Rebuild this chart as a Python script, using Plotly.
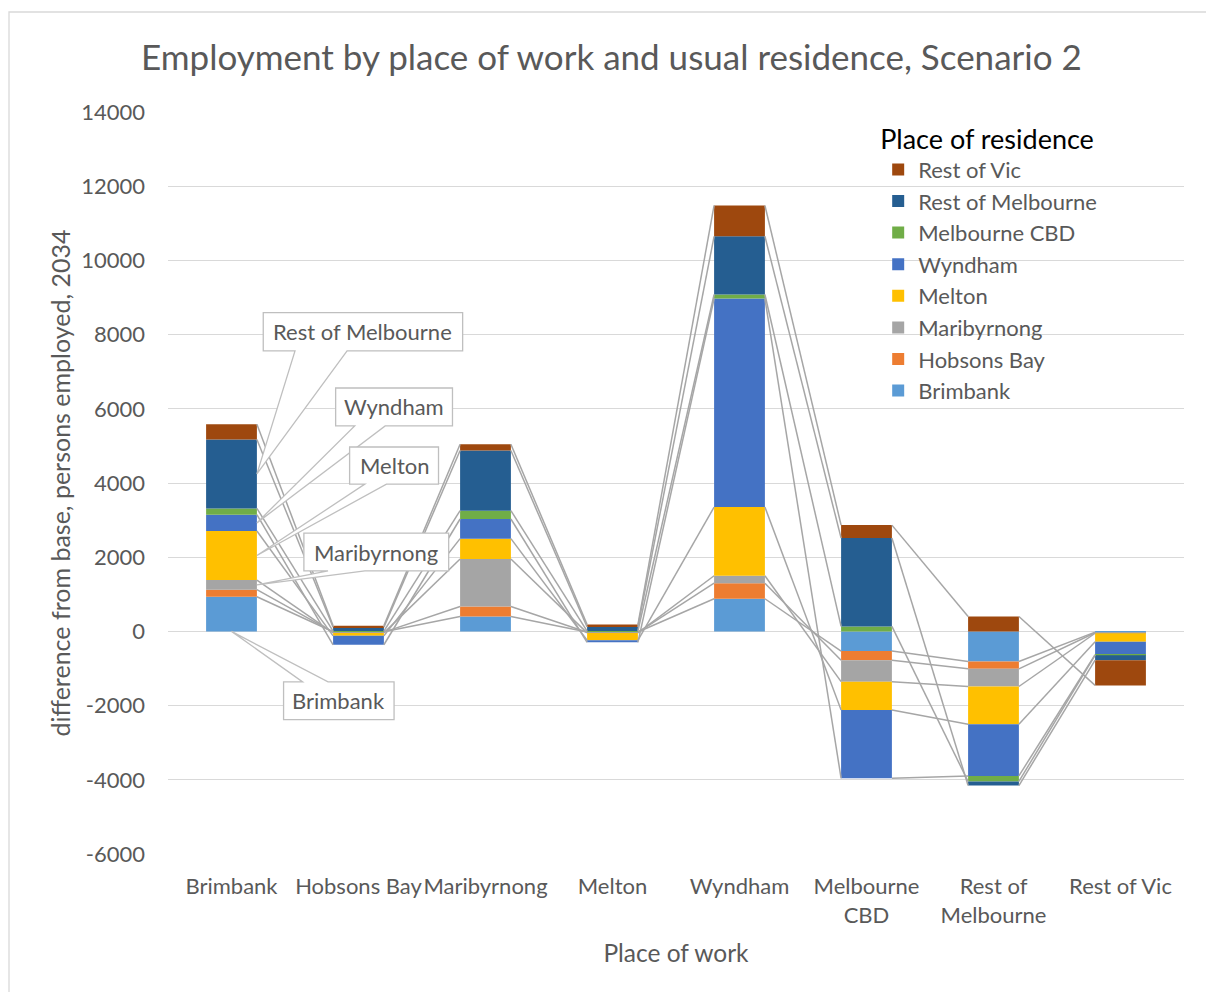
import numpy as np
import plotly.graph_objects as go

# Place of work (x categories)
work_places = ["Brimbank", "Hobsons Bay", "Maribyrnong", "Melton", "Wyndham",
               "Melbourne<br>CBD", "Rest of<br>Melbourne", "Rest of Vic"]

# Value axis ticks
y_ticks = [-6000, -4000, -2000, 0, 2000, 4000, 6000, 8000, 10000, 12000, 14000]

# Place of residence series: difference from base, persons employed, 2034
brimbank = [935, -10, 400, -15, 880, -530, -810, -20]
hobsons_bay = [190, -10, 270, -10, 420, -250, -200, -15]
maribyrnong = [260, -20, 1280, -15, 200, -575, -475, -15]
melton = [1320, -80, 550, -200, 1850, -765, -1015, -230]
wyndham = [440, -240, 530, -55, 5620, -1840, -1395, -350]
melbourne_cbd = [170, 10, 225, 10, 110, 135, -150, -10]
rest_of_melbourne = [1860, 100, 1620, 110, 1570, 2380, -110, -135]
rest_of_vic = [410, 45, 170, 65, 830, 350, 400, -680]

series_names = ["Brimbank", "Hobsons Bay", "Maribyrnong", "Melton", "Wyndham",
                "Melbourne CBD", "Rest of Melbourne", "Rest of Vic"]
series_values = [brimbank, hobsons_bay, maribyrnong, melton, wyndham,
                 melbourne_cbd, rest_of_melbourne, rest_of_vic]
series_colors = ["#5B9BD5", "#ED7D31", "#A5A5A5", "#FFC000", "#4472C4",
                 "#70AD47", "#255E91", "#9E480E"]

FONT = "Lato"
TEXT = "#595959"
BAR_W = 0.4
xs = np.arange(len(work_places))

fig = go.Figure()

# Stacked columns (positives stack up, negatives stack down)
for name, vals, col in zip(series_names, series_values, series_colors):
    fig.add_trace(go.Bar(x=xs, y=vals, name=name, width=BAR_W,
                         marker=dict(color=col, line=dict(width=0))))

# Cumulative segment ends / midpoints per series
vals = np.array(series_values, dtype=float)
pos = np.zeros(len(work_places))
neg = np.zeros(len(work_places))
seg_end = np.zeros_like(vals)
seg_mid = np.zeros_like(vals)
for i in range(vals.shape[0]):
    for j in range(vals.shape[1]):
        v = vals[i, j]
        if v >= 0:
            start = pos[j]
            pos[j] += v
            end = pos[j]
        else:
            start = neg[j]
            neg[j] += v
            end = neg[j]
        seg_end[i, j] = end
        seg_mid[i, j] = (start + end) / 2

# Series lines joining segment ends of neighbouring columns
for i in range(vals.shape[0]):
    lx, ly = [], []
    for j in range(vals.shape[1] - 1):
        lx += [xs[j] + BAR_W / 2, xs[j + 1] - BAR_W / 2, None]
        ly += [seg_end[i, j], seg_end[i, j + 1], None]
    fig.add_trace(go.Scatter(x=lx, y=ly, mode="lines", showlegend=False,
                             hoverinfo="skip",
                             line=dict(color="#A6A6A6", width=1.5)))

# Callout labels on the Brimbank column
# (box left, right, top, bottom, wedge base a, wedge base b, wedge side)
callouts = [
    ("Rest of Melbourne", 6, (0.25, 1.82, 8590, 7560, 0.50, 0.91, "bottom")),
    ("Wyndham", 4, (0.82, 1.74, 6560, 5540, 0.97, 1.21, "bottom")),
    ("Melton", 3, (0.93, 1.63, 4970, 3970, 1.05, 1.22, "bottom")),
    ("Maribyrnong", 2, (0.57, 1.71, 2650, 1630, 0.76, 1.05, "bottom")),
    ("Brimbank", 0, (0.41, 1.28, -1360, -2380, 0.56, 0.76, "top")),
]
shapes = []
annotations = []
for label, si, (l, r, t, b, wa, wb, side) in callouts:
    if side == "bottom":
        tx, ty = xs[0] + BAR_W / 2, seg_mid[si, 0]
        path = (f"M{l},{t} L{r},{t} L{r},{b} L{wb},{b} L{tx},{ty} "
                f"L{wa},{b} L{l},{b} Z")
    else:
        tx, ty = xs[0], 0
        path = (f"M{l},{t} L{wa},{t} L{tx},{ty} L{wb},{t} L{r},{t} "
                f"L{r},{b} L{l},{b} Z")
    shapes.append(dict(type="path", path=path, xref="x", yref="y",
                       fillcolor="white", line=dict(color="#BFBFBF", width=1.3)))
    annotations.append(dict(x=(l + r) / 2, y=(t + b) / 2, xref="x", yref="y",
                            text=label, showarrow=False,
                            font=dict(family=FONT, size=22, color=TEXT)))

# Chart area border
shapes.append(dict(type="rect", xref="paper", yref="paper",
                   x0=(9 - 168) / 1016, x1=(1212 - 168) / 1016,
                   y0=(854 - 1000) / 742, y1=(854 - 12) / 742,
                   line=dict(color="#D9D9D9", width=1.3), fillcolor="rgba(0,0,0,0)",
                   layer="below"))

fig.update_layout(
    width=1206, height=992,
    margin=dict(l=168, r=22, t=112, b=138),
    paper_bgcolor="white", plot_bgcolor="white",
    barmode="relative", bargap=0.6,
    font=dict(family=FONT, color=TEXT),
    title=dict(text="Employment by place of work and usual residence, Scenario 2",
               x=0.507, xanchor="center", y=0.942, yanchor="middle",
               font=dict(family=FONT, size=35, color=TEXT)),
    xaxis=dict(range=[-0.5, 7.5], tickvals=list(xs), ticktext=work_places,
               showgrid=False, zeroline=False, showline=False,
               tickangle=0, automargin=False,
               tickfont=dict(family=FONT, size=22, color=TEXT),
               ticklabelstandoff=17,
               title=dict(text="Place of work", standoff=18,
                          font=dict(family=FONT, size=24.5, color=TEXT))),
    yaxis=dict(range=[-6000, 14000], tickvals=y_ticks,
               ticktext=[str(v) for v in y_ticks],
               showgrid=True, gridcolor="#D9D9D9", gridwidth=1.3,
               zeroline=True, zerolinecolor="#D9D9D9", zerolinewidth=1.3,
               showline=False, automargin=False,
               tickfont=dict(family=FONT, size=22, color=TEXT),
               ticklabelstandoff=22,
               title=dict(text="difference from base, persons employed, 2034",
                          standoff=3,
                          font=dict(family=FONT, size=25, color=TEXT))),
    legend=dict(x=0.699, y=0.998, xanchor="left", yanchor="top",
                traceorder="reversed", bgcolor="rgba(255,255,255,0)",
                title=dict(text="Place of residence",
                           font=dict(family=FONT, size=27, color="#000000")),
                font=dict(family=FONT, size=22, color=TEXT)),
    shapes=shapes,
    annotations=annotations,
    showlegend=True,
)

fig.write_html("out.html")
